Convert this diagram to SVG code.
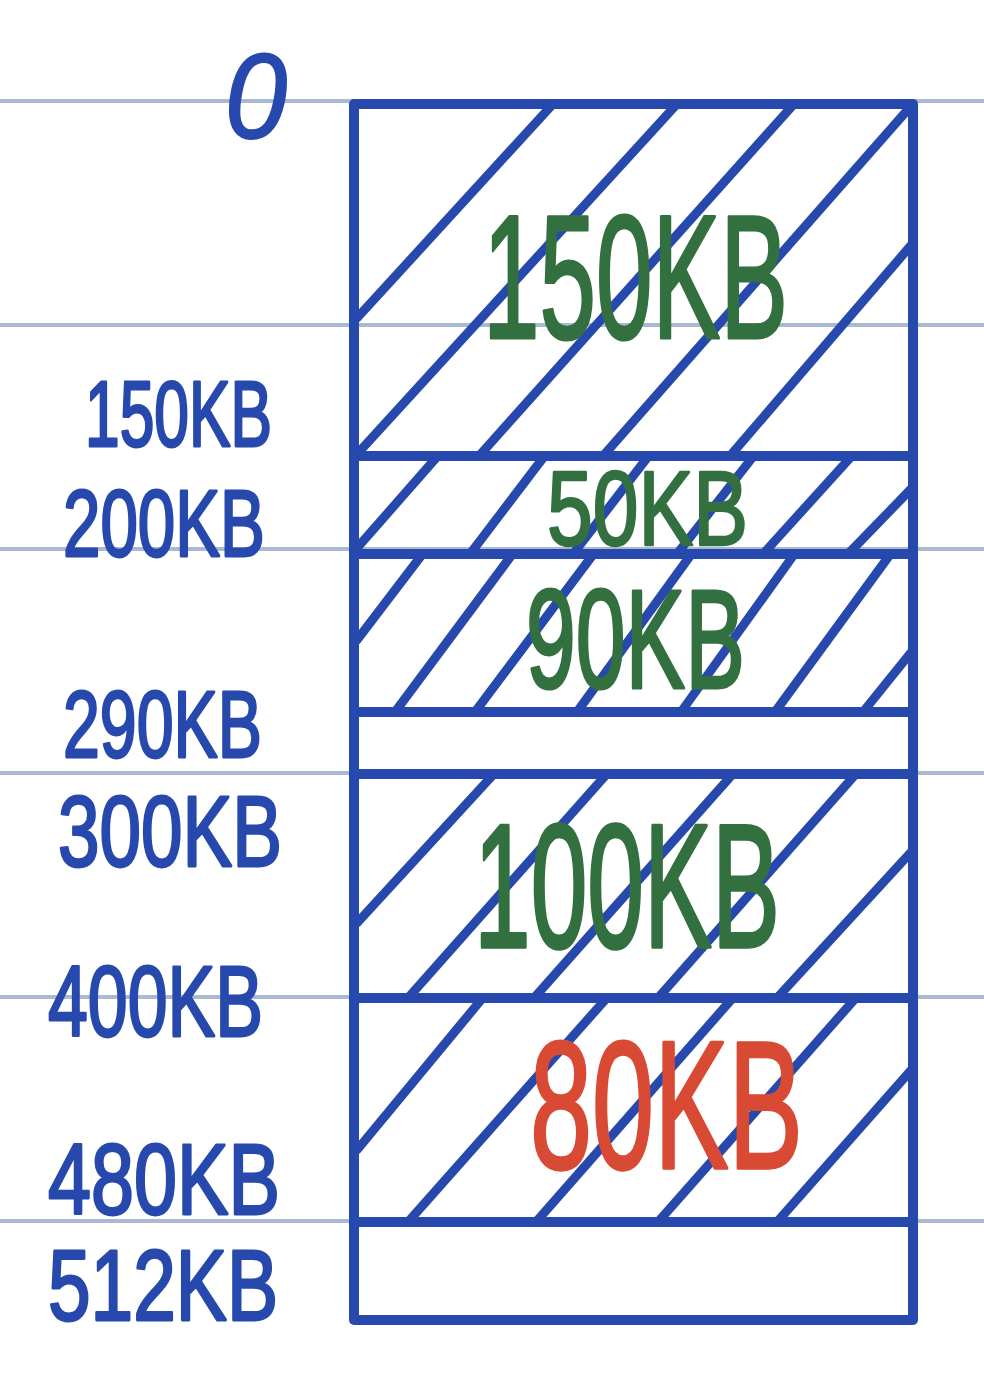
<svg xmlns="http://www.w3.org/2000/svg" width="984" height="1390" viewBox="0 0 984 1390">
<style>
.rule{stroke:#a9b9d2;stroke-width:4;fill:none}
.ink{stroke:#2749ad;stroke-width:10;stroke-linecap:round;stroke-linejoin:round;fill:none}
.hatch{stroke:#2749ad;stroke-width:9;stroke-linecap:round;fill:none}
.lbl{font-family:"Liberation Sans",Arial,sans-serif;fill:#2749ad;stroke:#2749ad;stroke-width:2;stroke-linejoin:round}
.sz{font-family:"Liberation Sans",Arial,sans-serif;fill:#337040;stroke:#337040;stroke-width:2;stroke-linejoin:round}
.red{fill:#d94a35;stroke:#d94a35}
</style>
<rect x="0" y="0" width="984" height="1390" fill="#ffffff"/>
<g id="ruling">
<line class="rule" x1="0" y1="101" x2="984" y2="101"/>
<line class="rule" x1="0" y1="325" x2="984" y2="325"/>
<line class="rule" x1="0" y1="549" x2="984" y2="549"/>
<line class="rule" x1="0" y1="773" x2="984" y2="773"/>
<line class="rule" x1="0" y1="997" x2="984" y2="997"/>
<line class="rule" x1="0" y1="1221" x2="984" y2="1221"/>
</g>
<g id="hatching">
<line class="hatch" x1="357" y1="318" x2="553" y2="104"/>
<line class="hatch" x1="359" y1="452" x2="677" y2="104"/>
<line class="hatch" x1="479" y1="456" x2="794" y2="104"/>
<line class="hatch" x1="603" y1="456" x2="911" y2="106"/>
<line class="hatch" x1="730" y1="456" x2="913" y2="243"/>

<line class="hatch" x1="357" y1="548" x2="436" y2="458"/>
<line class="hatch" x1="470" y1="554" x2="543" y2="458"/>
<line class="hatch" x1="573" y1="554" x2="647" y2="458"/>
<line class="hatch" x1="677" y1="554" x2="752" y2="458"/>
<line class="hatch" x1="763" y1="554" x2="850" y2="458"/>
<line class="hatch" x1="848" y1="554" x2="913" y2="487"/>

<line class="hatch" x1="357" y1="640" x2="421" y2="556"/>
<line class="hatch" x1="395" y1="712" x2="511" y2="556"/>
<line class="hatch" x1="475" y1="712" x2="592" y2="556"/>
<line class="hatch" x1="577" y1="712" x2="690" y2="556"/>
<line class="hatch" x1="681" y1="712" x2="793" y2="556"/>
<line class="hatch" x1="775" y1="712" x2="889" y2="556"/>
<line class="hatch" x1="863" y1="712" x2="913" y2="650"/>

<line class="hatch" x1="357" y1="923" x2="492" y2="776"/>
<line class="hatch" x1="408" y1="998" x2="605" y2="776"/>
<line class="hatch" x1="534" y1="998" x2="731" y2="776"/>
<line class="hatch" x1="658" y1="998" x2="854" y2="776"/>
<line class="hatch" x1="777" y1="998" x2="913" y2="850"/>

<line class="hatch" x1="357" y1="1150" x2="481" y2="1000"/>
<line class="hatch" x1="408" y1="1222" x2="605" y2="1000"/>
<line class="hatch" x1="536" y1="1222" x2="731" y2="1000"/>
<line class="hatch" x1="658" y1="1222" x2="854" y2="1000"/>
<line class="hatch" x1="777" y1="1222" x2="913" y2="1068"/>
</g>
<g id="memory">
<rect class="ink" x="354" y="104" width="559" height="1216"/>
<line class="ink" x1="354" y1="456" x2="913" y2="456"/>
<line class="ink" x1="354" y1="554" x2="913" y2="554"/>
<line class="ink" x1="354" y1="712" x2="913" y2="712"/>
<line class="ink" x1="354" y1="774" x2="913" y2="774"/>
<line class="ink" x1="354" y1="998" x2="913" y2="998"/>
<line class="ink" x1="354" y1="1222" x2="913" y2="1222"/>
</g>
<g id="addresses">
<text class="lbl" x="225" y="138" font-size="120" font-style="italic" textLength="62" lengthAdjust="spacingAndGlyphs">0</text>
<text class="lbl" transform="translate(85,446) scale(1,1.45)" x="0" y="0" font-size="64" textLength="187" lengthAdjust="spacingAndGlyphs">150KB</text>
<text class="lbl" transform="translate(63,556) scale(1,1.4)" x="0" y="0" font-size="68" textLength="202" lengthAdjust="spacingAndGlyphs">200KB</text>
<text class="lbl" transform="translate(63,757) scale(1,1.4)" x="0" y="0" font-size="68" textLength="199" lengthAdjust="spacingAndGlyphs">290KB</text>
<text class="lbl" transform="translate(58,866) scale(1,1.4)" x="0" y="0" font-size="72" textLength="224" lengthAdjust="spacingAndGlyphs">300KB</text>
<text class="lbl" transform="translate(48,1036) scale(1,1.4)" x="0" y="0" font-size="72" textLength="215" lengthAdjust="spacingAndGlyphs">400KB</text>
<text class="lbl" transform="translate(48,1214) scale(1,1.4)" x="0" y="0" font-size="72" textLength="232" lengthAdjust="spacingAndGlyphs">480KB</text>
<text class="lbl" transform="translate(48,1320) scale(1,1.4)" x="0" y="0" font-size="72" textLength="230" lengthAdjust="spacingAndGlyphs">512KB</text>
</g>
<g id="sizes">
<text class="sz" transform="translate(483,338) scale(1,1.6)" x="0" y="0" font-size="110" textLength="305" lengthAdjust="spacingAndGlyphs">150KB</text>
<text class="sz" transform="translate(547,545) scale(1,1.3)" x="0" y="0" font-size="82" textLength="201" lengthAdjust="spacingAndGlyphs">50KB</text>
<text class="sz" transform="translate(526,688) scale(1,1.6)" x="0" y="0" font-size="88" textLength="219" lengthAdjust="spacingAndGlyphs">90KB</text>
<text class="sz" transform="translate(474,947) scale(1,1.72)" x="0" y="0" font-size="102" textLength="306" lengthAdjust="spacingAndGlyphs">100KB</text>
<text class="sz red" transform="translate(530,1168) scale(1,1.65)" x="0" y="0" font-size="110" textLength="273" lengthAdjust="spacingAndGlyphs">80KB</text>
</g>
</svg>
